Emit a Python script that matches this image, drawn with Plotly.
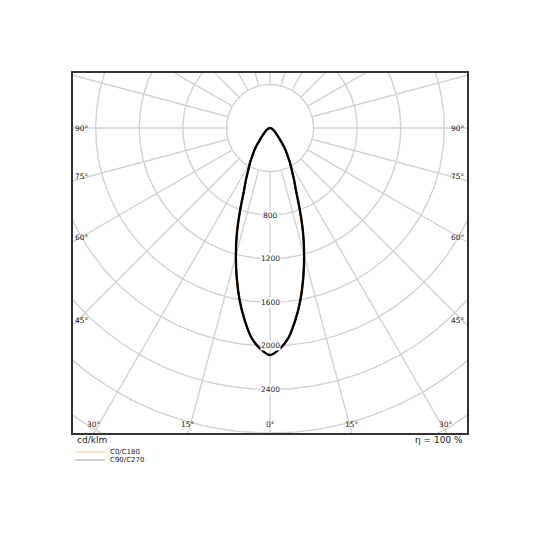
import numpy as np
import plotly.graph_objects as go

# luminous intensity distribution (cd/klm), symmetric lamp, gamma 0..90 (upper half is 0)
gamma = [0, 2.5, 5, 7.5, 10, 12.5, 15, 17.5, 20, 22.5, 25, 27.5, 30,
         32.5, 35, 37.5, 40, 42.5, 45, 50, 55, 60, 65, 70, 75, 80, 85, 90]
c0_c180 = [2085, 2030, 1935, 1780, 1605, 1410, 1210, 1010, 800, 625, 520, 430, 365,
           300, 250, 200, 150, 118, 95, 65, 48, 35, 25, 17, 10, 5, 2, 0]
c90_c270 = [2085, 2030, 1935, 1780, 1605, 1410, 1210, 1010, 800, 625, 520, 430, 365,
            300, 250, 200, 150, 118, 95, 65, 48, 35, 25, 17, 10, 5, 2, 0]

ring_values = [400, 800, 1200, 1600, 2000, 2400, 2800, 3200, 3600, 4000]
ring_labels = [800, 1200, 1600, 2000, 2400]
spoke_angles = list(range(0, 360, 15))
side_labels = [90, 75, 60, 45]
bottom_labels = [-30, -15, 0, 15, 30]

X_HALF = 1808
Y_MIN, Y_MAX = -2800, 505
GRID = "#d2d2d2"
FONT = "DejaVu Sans"


def to_xy(ang, r):
    a = np.radians(np.asarray(ang, dtype=float))
    r = np.asarray(r, dtype=float)
    return r * np.sin(a), -r * np.cos(a)


def full_curve(g, v):
    # mirror the half plane to the other side
    g = np.asarray(g, dtype=float)
    v = np.asarray(v, dtype=float)
    ang = np.concatenate([-g[::-1], g[1:]])
    val = np.concatenate([v[::-1], v[1:]])
    return to_xy(ang, val)


fig = go.Figure()

# polar grid
t = np.linspace(0, 360, 361)
for r in ring_values:
    x, y = to_xy(t, np.full_like(t, r))
    fig.add_trace(go.Scatter(x=x, y=y, mode="lines", line=dict(color=GRID, width=1.4),
                             hoverinfo="skip", showlegend=False))
for a in spoke_angles:
    x, y = to_xy([a, a], [400, 4500])
    fig.add_trace(go.Scatter(x=x, y=y, mode="lines", line=dict(color=GRID, width=1.4),
                             hoverinfo="skip", showlegend=False))

# curves
x, y = full_curve(gamma, c0_c180)
fig.add_trace(go.Scatter(x=x, y=y, mode="lines", name="C0/C180",
                         line=dict(color="#3a1c05", width=2.4, shape="spline", smoothing=0.8),
                         showlegend=False))
x, y = full_curve(gamma, c90_c270)
fig.add_trace(go.Scatter(x=x, y=y, mode="lines", name="C90/C270",
                         line=dict(color="#000000", width=1.8, shape="spline", smoothing=0.8),
                         showlegend=False))

annotations = []
for v in ring_labels:
    annotations.append(dict(x=0, y=-v, xref="x", yref="y", text=str(v), showarrow=False,
                            bgcolor="white", borderpad=0, yanchor="middle",
                            font=dict(size=7.5, color="#222", family=FONT)))
for a in side_labels:
    yy = -X_HALF / np.tan(np.radians(a)) if a != 90 else 0
    shift = 0 if a == 90 else 4
    annotations.append(dict(x=0, y=yy, xref="paper", yref="y", text=f"{a}°", showarrow=False,
                            xanchor="left", yanchor="middle", yshift=shift,
                            font=dict(size=7.5, color="#222", family=FONT)))
    annotations.append(dict(x=1, y=yy, xref="paper", yref="y", text=f"{a}°", showarrow=False,
                            xanchor="right", yanchor="middle", yshift=shift,
                            font=dict(size=7.5, color="#222", family=FONT)))
for a in bottom_labels:
    xx = -Y_MIN * np.tan(np.radians(a))
    annotations.append(dict(x=xx, y=Y_MIN, xref="x", yref="y", text=f"{abs(a)}°", showarrow=False,
                            yanchor="bottom", yshift=2, font=dict(size=7.5, color="#222", family=FONT)))

annotations.append(dict(x=0.006, y=-0.02, xref="paper", yref="paper", text="cd/klm", showarrow=False,
                        xanchor="left", yanchor="middle", font=dict(size=9, color="#222", family=FONT)))
annotations.append(dict(x=0.995, y=-0.02, xref="paper", yref="paper", text="η = 100 %", showarrow=False,
                        xanchor="right", yanchor="middle", font=dict(size=9, color="#222", family=FONT)))

# legend drawn by hand
legend_items = [("C0/C180", "#f6c98e", -0.053), ("C90/C270", "#9aa4a8", -0.075)]
shapes = []
for name, col, ly in legend_items:
    shapes.append(dict(type="line", xref="paper", yref="paper", x0=0.005, x1=0.081, y0=ly, y1=ly,
                       line=dict(color=col, width=1)))
    annotations.append(dict(x=0.088, y=ly, xref="paper", yref="paper", text=name, showarrow=False,
                            xanchor="left", yanchor="middle",
                            font=dict(size=7, color="#222", family=FONT)))

fig.update_layout(
    width=540, height=540,
    margin=dict(l=65, r=81, t=65, b=115),
    paper_bgcolor="white", plot_bgcolor="white",
    annotations=annotations, shapes=shapes,
    showlegend=False,
    font=dict(family=FONT),
)
fig.update_xaxes(range=[-X_HALF, X_HALF], showgrid=False, zeroline=False, showticklabels=False,
                 ticks="", showline=True, mirror=True, linecolor="#333", linewidth=2)
fig.update_yaxes(range=[Y_MIN, Y_MAX], showgrid=False, zeroline=False, showticklabels=False,
                 ticks="", showline=True, mirror=True, linecolor="#333", linewidth=2)

fig.write_html("out.html")
